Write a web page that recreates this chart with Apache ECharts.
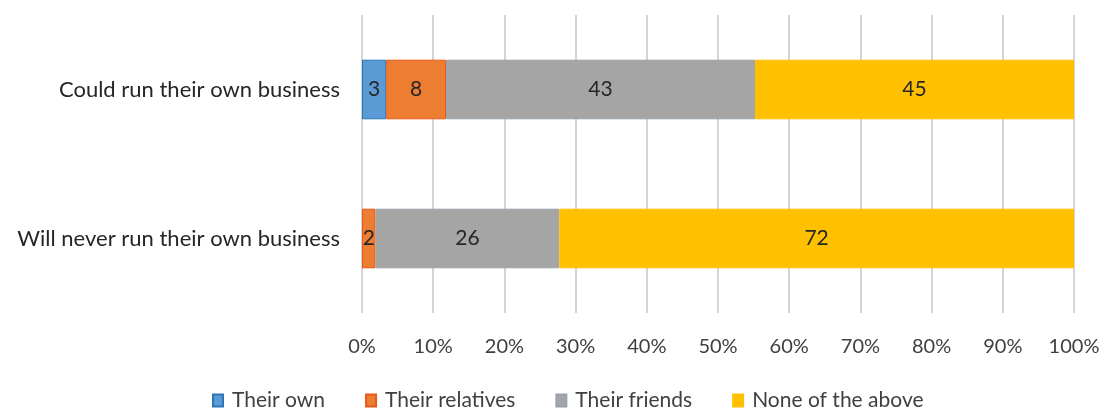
<!DOCTYPE html>
<html><head><meta charset="utf-8">
<script src="https://cdn.jsdelivr.net/npm/echarts@6/dist/echarts.min.js"></script>
<style>html,body{margin:0;padding:0;background:#fff}#c{width:1105px;height:408px}</style>
</head><body><div id="c"></div>
<script>
const categories = ["Could run their own business", "Will never run their own business"];
const seriesNames = ["Their own", "Their relatives", "Their friends", "None of the above"];
const theirOwn = [3.4, 0];
const theirRelatives = [8.4, 1.9];
const theirFriends = [43.4, 25.8];
const noneOfTheAbove = [44.8, 72.3];
const xTicks = [0, 10, 20, 30, 40, 50, 60, 70, 80, 90, 100];

const colors = ["#5B9BD5", "#ED7D31", "#A5A5A5", "#FFC000"];
const borders = ["#2E75B6", "#E8581A", "#9AA3AD", "#FFC000"];
const values = [theirOwn, theirRelatives, theirFriends, noneOfTheAbove];
const FONT = "Lato";

const chart = echarts.init(document.getElementById('c'), null, {renderer: 'canvas'});
chart.setOption({
  animation: false,
  backgroundColor: '#fff',
  grid: {left: 362, right: 31, top: 15, bottom: 95, containLabel: false},
  xAxis: {
    type: 'value', min: xTicks[0], max: xTicks[xTicks.length - 1], interval: 10,
    axisLine: {show: false}, axisTick: {show: false},
    splitLine: {show: true, lineStyle: {color: '#D4D4D4', width: 2}},
    axisLabel: {formatter: v => v + '%', color: '#404040', fontFamily: FONT, fontSize: 20, margin: 24}
  },
  yAxis: {
    type: 'category', data: categories, inverse: true,
    axisLine: {show: false}, axisTick: {show: false},
    axisLabel: {color: '#262626', fontFamily: FONT, fontSize: 22, margin: 22}
  },
  legend: {
    top: 385, left: 207, itemWidth: 10, itemHeight: 12, itemGap: 40,
    icon: 'rect',
    textStyle: {color: '#404040', fontFamily: FONT, fontSize: 21, padding: [0, 0, 0, 4]},
    data: seriesNames
  },
  series: seriesNames.map((n, i) => ({
    name: n, type: 'bar', stack: 'total', barWidth: '40%',
    data: values[i].map(v => ({value: v, itemStyle: {borderWidth: v > 0 ? 1 : 0}})),
    itemStyle: {color: colors[i], borderColor: borders[i], borderWidth: 1},
    label: {
      show: true, position: 'inside', color: '#262626', fontFamily: FONT, fontSize: 21,
      formatter: p => p.value > 0 ? Math.round(p.value) : ''
    }
  }))
});
</script></body></html>
